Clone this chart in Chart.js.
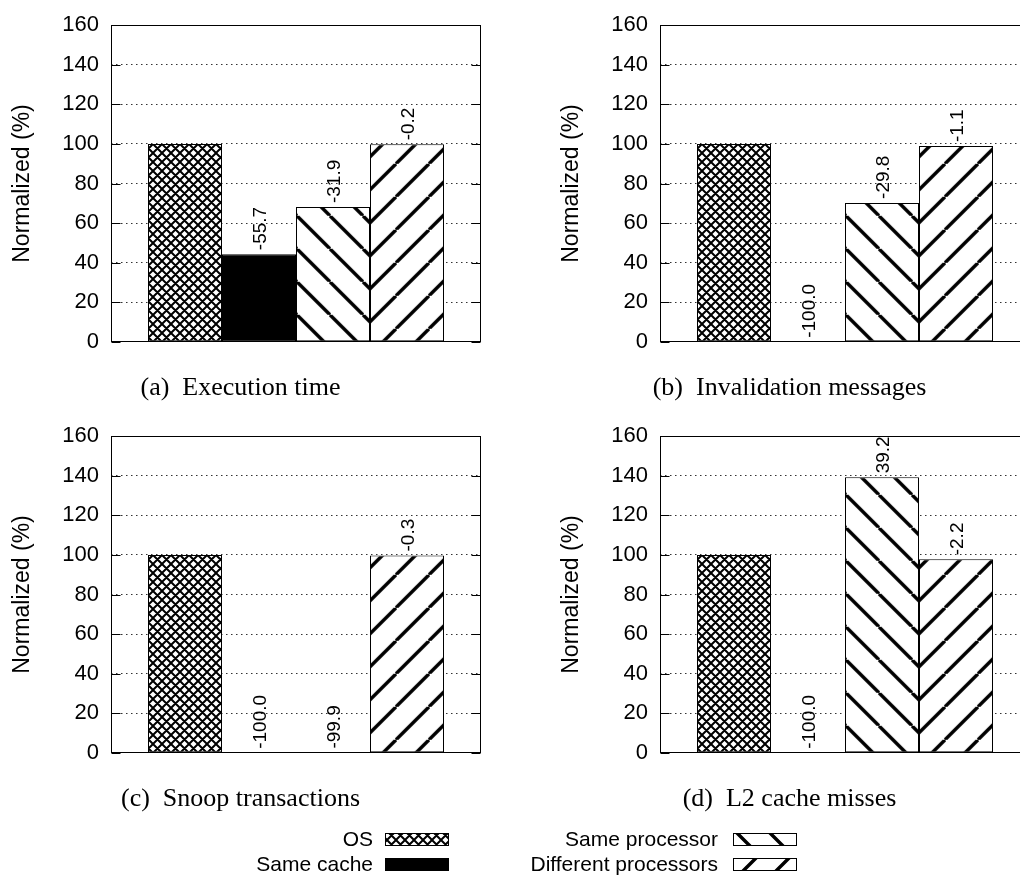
<!DOCTYPE html>
<html>
<head>
<meta charset="utf-8">
<script src="https://cdn.jsdelivr.net/npm/chart.js@4.4.1/dist/chart.umd.min.js"></script>
<style>
  html, body { margin: 0; padding: 0; background: #fff; overflow: hidden; }
  body { width: 1020px; height: 879px; position: relative; }
  canvas { position: absolute; }
</style>
</head>
<body>
<canvas id="panel-a" width="490" height="410" style="left:0;top:0"></canvas>
<canvas id="panel-b" width="490" height="410" style="left:549px;top:0"></canvas>
<canvas id="panel-c" width="490" height="410" style="left:0;top:411px"></canvas>
<canvas id="panel-d" width="490" height="410" style="left:549px;top:411px"></canvas>
<canvas id="legend" width="1020" height="57" style="left:0;top:822px"></canvas>
<script>
// normalized to OS = 100, one value per panel (a..d)
const seriesNames = ['OS', 'Same cache', 'Same processor', 'Different processors'];
const panelCaptions = ['(a)  Execution time', '(b)  Invalidation messages', '(c)  Snoop transactions', '(d)  L2 cache misses'];
const osValues = [100, 100, 100, 100];
const sameCacheValues = [44.3, 0, 0, 0];
const sameProcValues = [68.1, 70.2, 0.1, 139.2];
const diffProcValues = [99.8, 98.9, 99.7, 97.8];
const yTickValues = [0, 20, 40, 60, 80, 100, 120, 140, 160];

const SANS = '"Liberation Sans", Arial, sans-serif';
const SERIF = '"Liberation Serif", "Times New Roman", serif';

function crossHatch(ctx) {
  const s = 9;
  const tile = document.createElement('canvas');
  tile.width = s; tile.height = s;
  const t = tile.getContext('2d');
  t.fillStyle = '#fff';
  t.fillRect(0, 0, s, s);
  t.strokeStyle = '#000';
  t.lineWidth = 2;
  t.beginPath();
  for (let k = -1; k <= 1; k++) {
    t.moveTo(k * s, 0); t.lineTo(k * s + s, s);
    t.moveTo(k * s, s); t.lineTo(k * s + s, 0);
  }
  t.stroke();
  return ctx.createPattern(tile, 'repeat');
}

// dir -1 = "\" , dir 1 = "/"
function hatch(ctx, dir) {
  const s = 33;
  const tile = document.createElement('canvas');
  tile.width = s; tile.height = s;
  const t = tile.getContext('2d');
  t.fillStyle = '#fff';
  t.fillRect(0, 0, s, s);
  t.strokeStyle = '#000';
  t.lineWidth = 3.4;
  t.beginPath();
  for (let k = -1; k <= 1; k++) {
    if (dir < 0) { t.moveTo(k * s, 0); t.lineTo(k * s + s, s); }
    else { t.moveTo(k * s, s); t.lineTo(k * s + s, 0); }
  }
  t.stroke();
  return ctx.createPattern(tile, 'repeat');
}

function makePanel(i, canvasId) {
  const canvas = document.getElementById(canvasId);
  const ctx = canvas.getContext('2d');
  const pats = { cross: crossHatch(ctx), back: hatch(ctx, -1), fwd: hatch(ctx, 1) };
  const values = [osValues[i], sameCacheValues[i], sameProcValues[i], diffProcValues[i]];
  const fills = [pats.cross, '#000', pats.back, pats.fwd];

  const panelPlugin = {
    id: 'panelFrame',
    beforeDatasetsDraw(chart) {
      // make the two hatches meet at the shared edge, like the original
      const bar = chart.getDatasetMeta(2).data[0];
      const x0 = bar.x + bar.width / 2;
      const yb = chart.chartArea.bottom - 20;
      pats.back.setTransform(new DOMMatrix().translate(0, yb - x0));
      pats.fwd.setTransform(new DOMMatrix().translate(0, yb + x0));
    },
    afterDatasetsDraw(chart) {
      const c = chart.ctx;
      const { left, right, top, bottom } = chart.chartArea;
      const yScale = chart.scales.y;
      c.save();
      c.strokeStyle = '#000';
      c.lineWidth = 1;
      c.setLineDash([]);
      const l = Math.round(left) + 0.5, r = Math.round(right) - 0.5;
      c.strokeRect(l, Math.round(top) + 0.5, r - l, Math.round(bottom) - Math.round(top) - 1);
      c.beginPath();
      yScale.ticks.forEach(t => {
        const y = Math.round(yScale.getPixelForValue(t.value)) + 0.5;
        c.moveTo(l, y); c.lineTo(l + 9, y);
        c.moveTo(r, y); c.lineTo(r - 9, y);
      });
      c.stroke();

      // value labels: change versus OS, written upward above each bar
      const size = 19;
      c.font = size + 'px ' + SANS;
      c.fillStyle = '#000';
      c.textAlign = 'left';
      c.textBaseline = 'alphabetic';
      chart.data.datasets.forEach((ds, d) => {
        if (d === 0) return;
        const el = chart.getDatasetMeta(d).data[0];
        const txt = (ds.data[0] - 100).toFixed(1);
        c.save();
        c.translate(el.x + size * 0.36, el.y - 4);
        c.rotate(-Math.PI / 2);
        c.fillText(txt, 0, 0);
        c.restore();
      });
      c.restore();
    }
  };

  return new Chart(ctx, {
    type: 'bar',
    data: {
      labels: [''],
      datasets: seriesNames.map((name, d) => ({
        label: name,
        data: [values[d]],
        backgroundColor: fills[d],
        borderColor: '#000',
        borderWidth: 1,
        borderSkipped: false,
        categoryPercentage: 0.8,
        barPercentage: 1
      }))
    },
    options: {
      responsive: false,
      animation: false,
      devicePixelRatio: 1,
      layout: { padding: { left: 0, right: 9, top: i < 2 ? 17.5 : 18, bottom: 6 } },
      plugins: {
        legend: { display: false },
        tooltip: { enabled: false },
        title: {
          display: true,
          position: 'bottom',
          text: panelCaptions[i],
          color: '#000',
          font: { family: SERIF, size: 26, weight: 'normal' },
          padding: { top: 31, bottom: 0 }
        }
      },
      scales: {
        x: { display: false },
        y: {
          min: 0,
          max: 160,
          afterBuildTicks(scale) { scale.ticks = yTickValues.map(v => ({ value: v })); },
          ticks: { padding: 12, color: '#000', font: { family: SANS, size: 22 } },
          grid: { color: '#333', lineWidth: 1, drawTicks: false },
          border: { display: false, dash: [1.5, 3.5] },
          title: {
            display: true,
            text: 'Normalized (%)',
            color: '#000',
            font: { family: SANS, size: 23 },
            padding: { top: 9, bottom: 0 }
          },
          afterFit(scale) { scale.width = 111; }
        }
      }
    },
    plugins: [panelPlugin]
  });
}

function drawLegend() {
  const c = document.getElementById('legend');
  const ctx = c.getContext('2d');
  const fills = [crossHatch(ctx), '#000', hatch(ctx, -1), hatch(ctx, 1)];
  const spots = [
    { textRight: 373, boxLeft: 385, y: 18 },
    { textRight: 373, boxLeft: 385, y: 43 },
    { textRight: 718, boxLeft: 733, y: 18 },
    { textRight: 718, boxLeft: 733, y: 43 }
  ];
  ctx.font = '21px ' + SANS;
  ctx.textAlign = 'right';
  ctx.textBaseline = 'middle';
  seriesNames.forEach((name, d) => {
    const s = spots[d];
    ctx.fillStyle = '#000';
    ctx.fillText(name, s.textRight, s.y);
    ctx.fillStyle = fills[d];
    ctx.fillRect(s.boxLeft, s.y - 7, 64, 13);
    ctx.strokeStyle = '#000';
    ctx.lineWidth = 1;
    ctx.strokeRect(s.boxLeft + 0.5, s.y - 6.5, 63, 12);
  });
}

const charts = ['panel-a', 'panel-b', 'panel-c', 'panel-d'].map((id, i) => makePanel(i, id));
drawLegend();
</script>
</body>
</html>
